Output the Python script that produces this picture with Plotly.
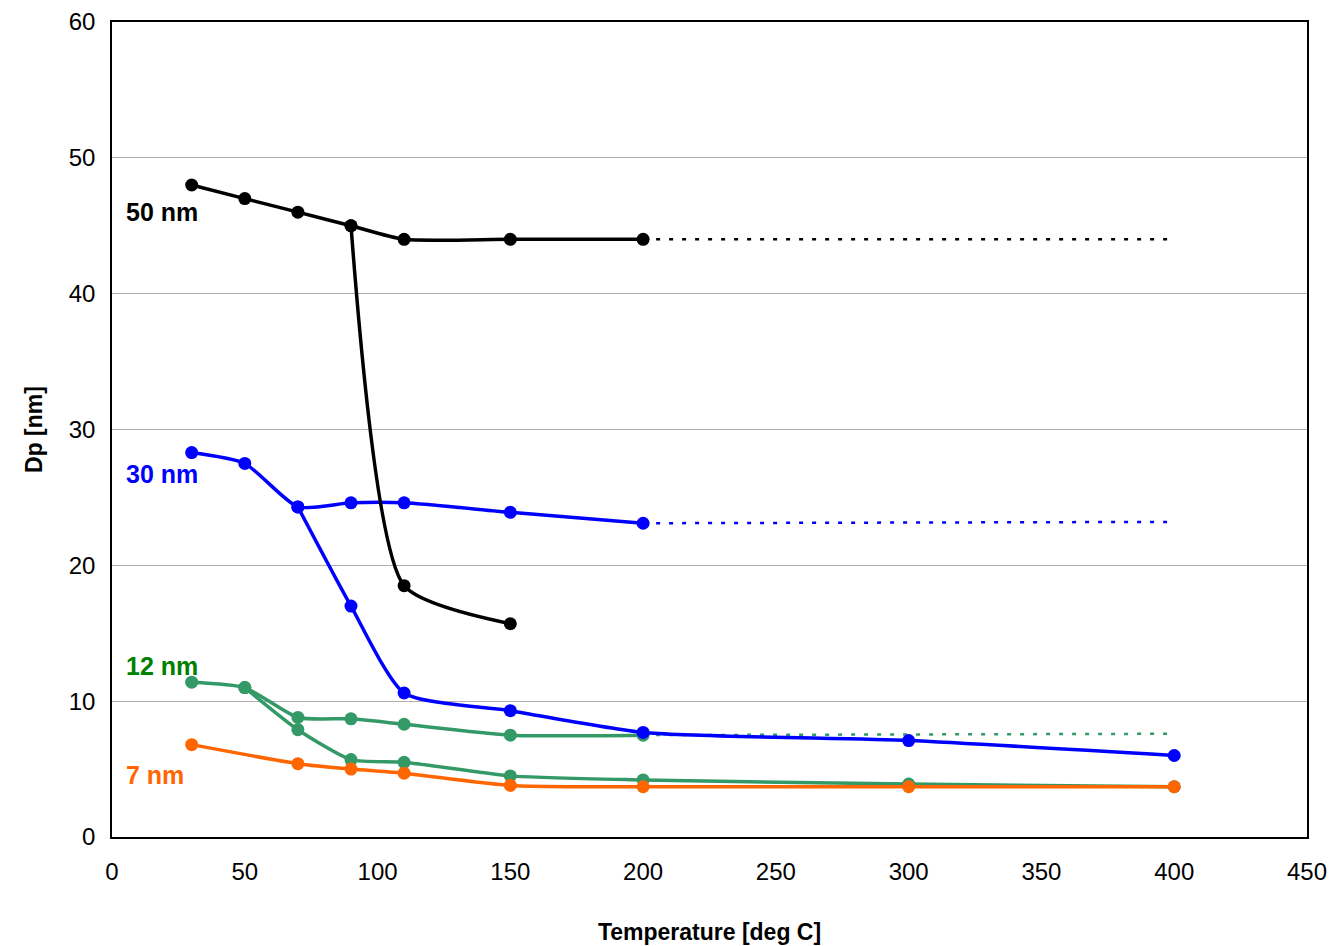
import plotly.graph_objects as go

# 50 nm
black_up_x = [30, 50, 70, 90, 110, 150, 200]
black_up_y = [48, 47, 46, 45, 44, 44, 44]
black_lo_x = [90, 110, 150]
black_lo_y = [45, 18.5, 15.7]
# 30 nm
blue_up_x = [30, 50, 70, 90, 110, 150, 200]
blue_up_y = [28.3, 27.5, 24.3, 24.6, 24.6, 23.9, 23.1]
blue_lo_x = [70, 90, 110, 150, 200, 300, 400]
blue_lo_y = [24.3, 17.0, 10.6, 9.3, 7.7, 7.1, 6.0]
# 12 nm
green_up_x = [30, 50, 70, 90, 110, 150, 200]
green_up_y = [11.4, 11.0, 8.8, 8.7, 8.3, 7.5, 7.5]
green_lo_x = [50, 70, 90, 110, 150, 200, 300, 400]
green_lo_y = [11.0, 7.9, 5.7, 5.5, 4.5, 4.2, 3.9, 3.7]
# 7 nm
orange_x = [30, 70, 90, 110, 150, 200, 300, 400]
orange_y = [6.8, 5.4, 5.0, 4.7, 3.8, 3.7, 3.7, 3.7]
# dotted extensions
dot_x = [200, 400]
dot_black = [44, 44]
dot_blue = [23.1, 23.2]
dot_green = [7.5, 7.6]

BLACK, BLUE, GREEN, ORANGE = "#000000", "#0000ff", "#339966", "#ff6600"

fig = go.Figure()

def solid(x, y, c):
    fig.add_trace(go.Scatter(x=x, y=y, mode="lines+markers", line=dict(color=c, width=3.5, shape="spline", smoothing=0.6),
                             marker=dict(color=c, size=13), showlegend=False))

def dotted(y, c):
    fig.add_trace(go.Scatter(x=dot_x, y=y, mode="lines", line=dict(color=c, width=2.5, dash="4px,9px"), showlegend=False))

dotted(dot_black, BLACK)
dotted(dot_blue, BLUE)
dotted(dot_green, GREEN)
solid(green_up_x, green_up_y, GREEN)
solid(green_lo_x, green_lo_y, GREEN)
solid(orange_x, orange_y, ORANGE)
solid(blue_up_x, blue_up_y, BLUE)
solid(blue_lo_x, blue_lo_y, BLUE)
solid(black_up_x, black_up_y, BLACK)
solid(black_lo_x, black_lo_y, BLACK)

labels = [("50 nm", 46.0, BLACK), ("30 nm", 26.7, BLUE), ("12 nm", 12.6, "#008000"), ("7 nm", 4.6, ORANGE)]
for txt, yy, c in labels:
    fig.add_annotation(x=4.5, y=yy, text="<b>%s</b>" % txt, showarrow=False, xanchor="left",
                       font=dict(color=c, size=25, family="Liberation Sans"))

fig.update_layout(
    width=1335, height=946, plot_bgcolor="white", paper_bgcolor="white",
    margin=dict(l=104, r=36, t=14, b=117),
    font=dict(family="Liberation Sans", size=24, color="black"),
    xaxis=dict(range=[0, 450], dtick=50, showgrid=False, showline=True, linecolor="black", mirror=True,
               ticks="outside", tickcolor="rgba(0,0,0,0)", ticklen=12, automargin=False, linewidth=1.5,
               title=dict(text="<b>Temperature [deg C]</b>", font=dict(size=23), standoff=40)),
    yaxis=dict(range=[0, 60], dtick=10, showgrid=True, gridcolor="#b0b0b0", showline=True, linecolor="black",
               mirror=True, ticks="outside", ticklen=10, tickcolor="rgba(0,0,0,0)", zeroline=False,
               automargin=False, linewidth=1.5,
               title=dict(text="<b>Dp [nm]</b>", font=dict(size=23), standoff=20)),
)

fig.write_html("out.html")
